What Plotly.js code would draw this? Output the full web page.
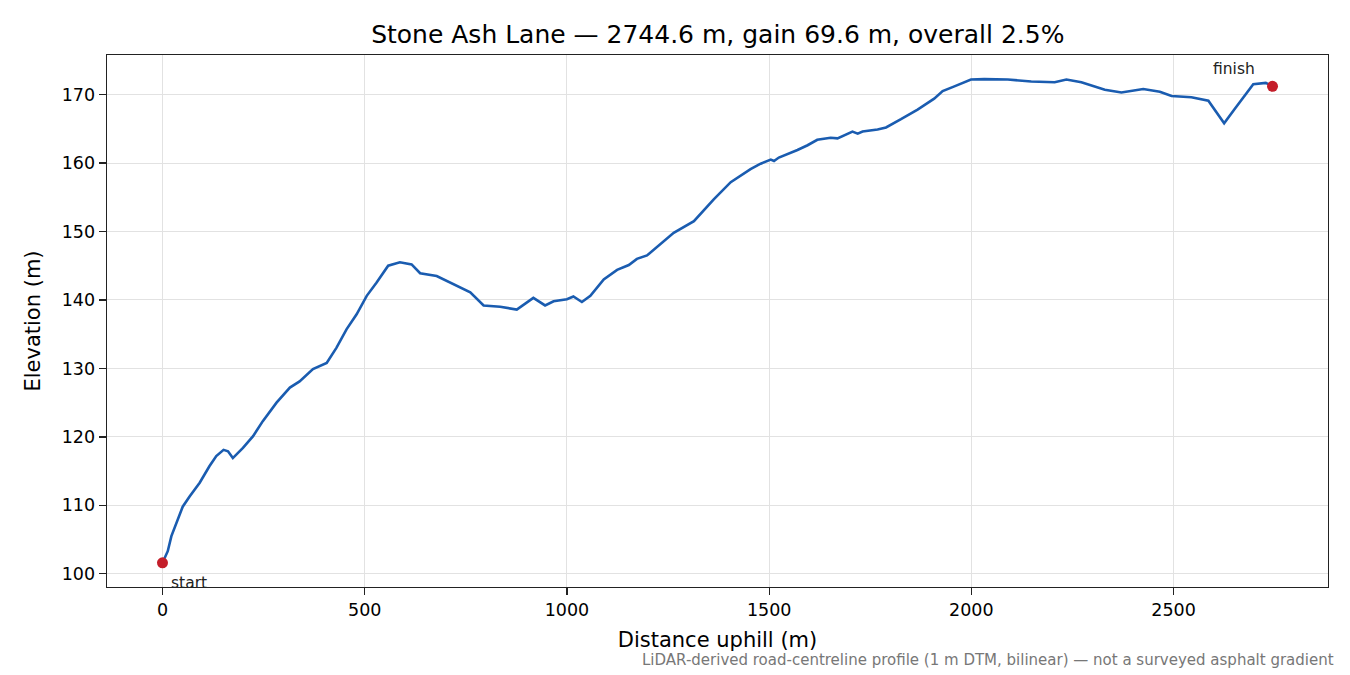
<!DOCTYPE html>
<html>
<head>
<meta charset="utf-8">
<script src="https://cdn.plot.ly/plotly-3.0.1.min.js"></script>
<style>
  html, body { margin: 0; padding: 0; background: #fff; }
  #myPlot { width: 1350px; height: 675px; }
</style>
</head>
<body>
<div id="myPlot"></div>
<script>
// distance along the lane (m) and elevation (m)
let distance = [0, 13, 22, 34, 50, 67, 92, 116, 133, 151, 162, 174, 199, 224, 248, 282, 315, 339, 372, 406,
  430, 455, 480, 505, 529, 558, 587, 616, 637, 678, 719, 761, 794, 835, 876, 917, 946, 967, 1000, 1016,
  1037, 1058, 1091, 1124, 1153, 1173, 1198, 1231, 1264, 1314, 1339, 1363, 1405, 1454, 1479, 1504, 1512, 1524, 1570, 1595,
  1619, 1652, 1669, 1706, 1719, 1731, 1768, 1789, 1826, 1867, 1908, 1929, 1958, 1999, 2032, 2074, 2090, 2148, 2206, 2235,
  2272, 2330, 2371, 2425, 2466, 2495, 2544, 2586, 2606, 2625, 2651, 2697, 2728, 2744.6];
let elevation = [101.6, 103.3, 105.5, 107.4, 109.8, 111.3, 113.3, 115.7, 117.2, 118.1, 117.9, 116.9, 118.4, 120.1, 122.3, 125.0, 127.2, 128.1, 129.9, 130.8,
  133.0, 135.7, 137.9, 140.6, 142.5, 145.0, 145.5, 145.2, 143.9, 143.5, 142.3, 141.1, 139.2, 139.0, 138.6, 140.3, 139.2, 139.8, 140.1, 140.5,
  139.7, 140.6, 143.0, 144.4, 145.1, 146.0, 146.5, 148.1, 149.8, 151.5, 153.2, 154.7, 157.2, 159.1, 159.9, 160.5, 160.3, 160.8, 161.9, 162.6,
  163.4, 163.7, 163.6, 164.6, 164.3, 164.6, 164.9, 165.2, 166.4, 167.8, 169.4, 170.5, 171.2, 172.2, 172.25, 172.2, 172.2, 171.9, 171.8, 172.2,
  171.8, 170.7, 170.3, 170.8, 170.4, 169.8, 169.6, 169.1, 167.4, 165.8, 167.9, 171.5, 171.7, 171.2];

let endLabels = ['start', 'finish'];
let xTicks = [0, 500, 1000, 1500, 2000, 2500];
let yTicks = [100, 110, 120, 130, 140, 150, 160, 170];

let n = distance.length - 1;
let fnt = 'DejaVu Sans, sans-serif';

var profile = {
  x: distance,
  y: elevation,
  mode: 'lines',
  line: { color: '#1a5cb0', width: 2.6 },
  hoverinfo: 'skip',
  showlegend: false
};
var ends = {
  x: [distance[0], distance[n]],
  y: [elevation[0], elevation[n]],
  mode: 'markers',
  marker: { color: '#c41e2a', size: 11 },
  showlegend: false,
  cliponaxis: false
};

var layout = {
  width: 1350,
  height: 675,
  margin: { l: 107, r: 22, t: 55, b: 88 },
  paper_bgcolor: '#fff',
  plot_bgcolor: '#fff',
  font: { family: fnt, color: '#000' },
  title: {
    text: 'Stone Ash Lane \u2014 2744.6 m, gain 69.6 m, overall 2.5%',
    font: { family: fnt, size: 25, color: '#000' },
    x: 0.5317, xref: 'container',
    y: 1 - 34 / 675, yref: 'container', yanchor: 'middle'
  },
  xaxis: {
    range: [-137.2, 2881.8],
    tickvals: xTicks,
    ticks: 'outside', ticklen: 7, tickwidth: 1.3, tickcolor: '#222',
    tickfont: { family: fnt, size: 17.5, color: '#000' },
    showline: true, mirror: true, linecolor: '#222', linewidth: 1.4,
    showgrid: true, gridcolor: '#e2e2e2', gridwidth: 1,
    zeroline: false,
    title: { text: 'Distance uphill (m)', font: { family: fnt, size: 21, color: '#000' }, standoff: 13 }
  },
  yaxis: {
    range: [98.07, 175.78],
    tickvals: yTicks,
    ticks: 'outside', ticklen: 7, tickwidth: 1.3, tickcolor: '#222',
    tickfont: { family: fnt, size: 17.5, color: '#000' },
    showline: true, mirror: true, linecolor: '#222', linewidth: 1.4,
    showgrid: true, gridcolor: '#e2e2e2', gridwidth: 1,
    zeroline: false,
    title: { text: 'Elevation (m)', font: { family: fnt, size: 21, color: '#000' }, standoff: 15 }
  },
  annotations: [
    {
      x: distance[0], y: elevation[0], xref: 'x', yref: 'y',
      text: endLabels[0], showarrow: false,
      xanchor: 'left', yanchor: 'middle', xshift: 7, yshift: -20,
      font: { family: fnt, size: 15.5, color: '#222' }
    },
    {
      x: distance[n], y: elevation[n], xref: 'x', yref: 'y',
      text: endLabels[1], showarrow: false,
      xanchor: 'right', yanchor: 'middle', xshift: -16, yshift: 17,
      font: { family: fnt, size: 15.5, color: '#222' }
    },
    {
      x: 1, y: 0, xref: 'paper', yref: 'paper',
      text: 'LiDAR-derived road-centreline profile (1 m DTM, bilinear) \u2014 not a surveyed asphalt gradient',
      showarrow: false, xanchor: 'right', yanchor: 'middle',
      font: { family: fnt, size: 15, color: '#777' }
    }
  ]
};

// the footnote is placed in page pixels, so convert to the plot's paper coords
var plotW = 1350 - 107 - 22, plotH = 675 - 55 - 88;
layout.annotations[2].x = (1336 - 107) / plotW;
layout.annotations[2].y = (587 - 660) / plotH;

Plotly.newPlot('myPlot', [profile, ends], layout, { displayModeBar: false, staticPlot: true });
</script>
</body>
</html>
